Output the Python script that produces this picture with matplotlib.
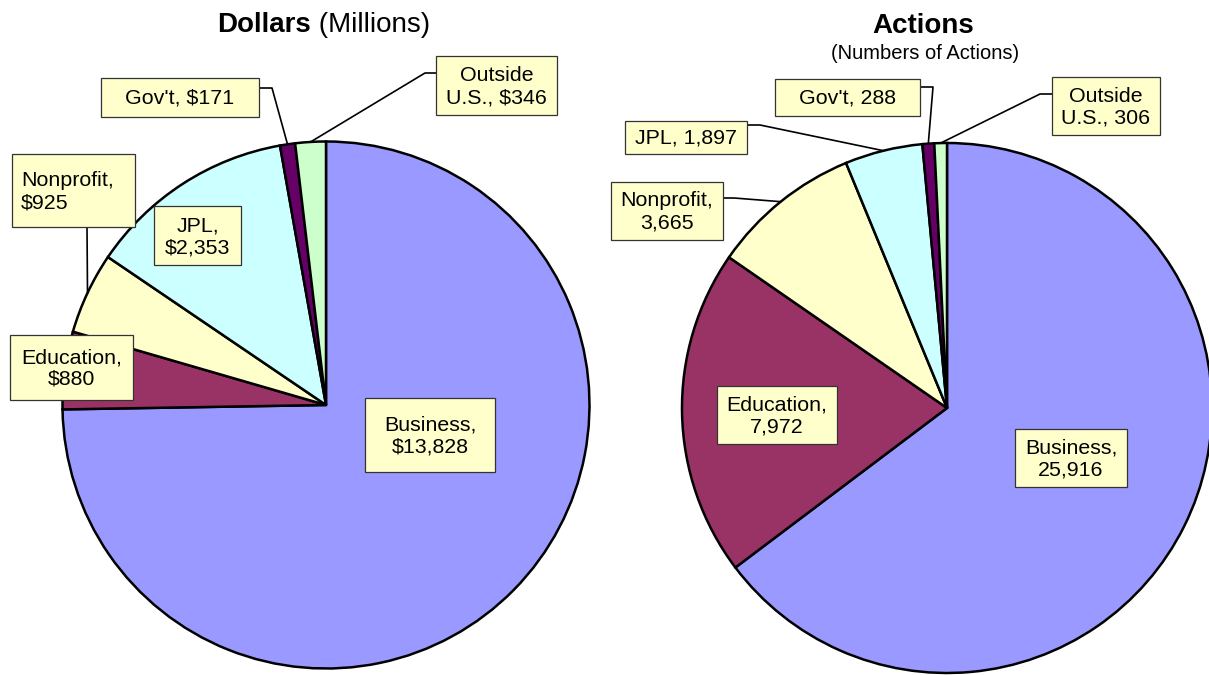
#!/usr/bin/env python3

# Two pies: dollars and number of actions by recipient category

import matplotlib.pyplot as plt
from matplotlib.patches import Rectangle
import numpy as np

plt.rcParams['font.family'] = ['Liberation Sans', 'DejaVu Sans']

categories = ["Business", "Education", "Nonprofit", "JPL", "Gov't", "Outside U.S."]
dollars = [13828, 880, 925, 2353, 171, 346]
actions = [25916, 7972, 3665, 1897, 288, 306]
dollar_labels = ["Business,\n$13,828", "Education,\n$880", "Nonprofit,\n$925",
                 "JPL,\n$2,353", "Gov't, $171", "Outside\nU.S., $346"]
action_labels = ["Business,\n25,916", "Education,\n7,972", "Nonprofit,\n3,665",
                 "JPL, 1,897", "Gov't, 288", "Outside\nU.S., 306"]
colors = ['#9999FF', '#993366', '#FFFFCC', '#CCFFFF', '#660066', '#CCFFCC']

# layout in pixels (y down): label boxes (cx, cy, w, h), leader elbows
dollar_boxes = [(430, 435, 130, 74), (71.5, 367.5, 123, 65), (73.5, 190.5, 123, 73),
                (197.5, 235.5, 87, 59), (180, 97.5, 158, 39), (496.5, 85.5, 121, 59)]
dollar_leaders = [None, None, [(87, 227)], None,
                  [(259, 88), (272, 88)], [(436, 73), (425, 73)]]
dollar_align = ['center', 'center', 'left', 'center', 'center', 'center']

action_boxes = [(1071, 458, 112, 58), (777, 415, 120, 58), (667, 211, 112, 58),
                (686, 137.5, 122, 33), (847.5, 97.5, 145, 37), (1106, 106, 108, 58)]
action_leaders = [None, None, [(723, 198), (734, 198)], [(747, 125), (760, 125)],
                  [(920, 87), (933, 87)], [(1052, 94), (1040, 94)]]
action_align = ['center'] * 6

W, H = 1209, 675
fig = plt.figure(figsize=(W / 100, H / 100), dpi=100)
ax = fig.add_axes([0, 0, 1, 1])


def draw_pie(values, labels, center, r, boxes, leaders, align):
    # y axis is inverted, so startangle=-90 + counterclock gives top / clockwise
    wedges, _ = ax.pie(values, colors=colors, startangle=-90, counterclock=True,
                       center=center, radius=r, frame=True,
                       wedgeprops=dict(edgecolor='black', linewidth=1.8))
    for w, lab, box, lead, ha in zip(wedges, labels, boxes, leaders, align):
        if lead is not None:
            a = np.radians((w.theta1 + w.theta2) / 2)
            pts = lead + [(center[0] + r * np.cos(a), center[1] + r * np.sin(a))]
            xs, ys = zip(*pts)
            ax.plot(xs, ys, color='black', lw=1.2, zorder=3)
        cx, cy, bw, bh = box
        ax.add_patch(Rectangle((cx - bw / 2, cy - bh / 2), bw, bh, facecolor='#FFFFCC',
                               edgecolor='#333333', lw=0.9, zorder=4))
        tx = cx if ha == 'center' else cx - bw / 2 + 9
        ax.text(tx, cy + 1, lab, ha=ha, va='center', multialignment=ha,
                fontsize=15.4, zorder=5)


draw_pie(dollars, dollar_labels, (326, 405), 263.5, dollar_boxes, dollar_leaders, dollar_align)
draw_pie(actions, action_labels, (947, 408), 265, action_boxes, action_leaders, action_align)

t1 = ax.text(217, 32, "Dollars", fontsize=20, fontweight='bold', ha='left', va='baseline')
ax.annotate(" (Millions)", xy=(1, 0), xycoords=t1, ha='left', va='bottom', fontsize=20)
ax.text(923, 33, "Actions", fontsize=20, fontweight='bold', ha='center', va='baseline')
ax.text(925, 59, "(Numbers of Actions)", fontsize=14.5, ha='center', va='baseline')

ax.set_xlim(0, W)
ax.set_ylim(H, 0)
ax.axis('off')

fig.savefig('out.png', dpi=100)
